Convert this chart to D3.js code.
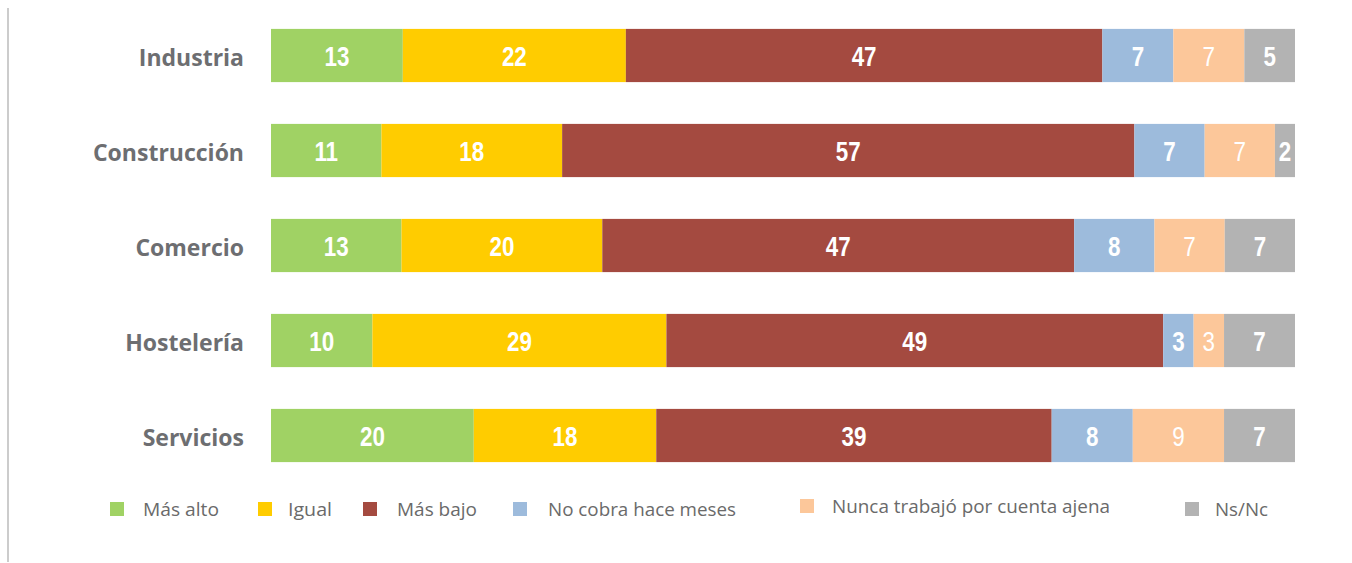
<!DOCTYPE html>
<html>
<head>
<meta charset="utf-8">
<script src="https://cdn.jsdelivr.net/npm/d3@7"></script>
<style>
  html, body { margin: 0; padding: 0; background: #fff; }
  svg { display: block; }
</style>
</head>
<body>
<svg id="chart" width="1352" height="563"></svg>
<script>
const categories = ["Industria", "Construcción", "Comercio", "Hostelería", "Servicios"];
const seriesNames = ["Más alto", "Igual", "Más bajo", "No cobra hace meses", "Nunca trabajó por cuenta ajena", "Ns/Nc"];
const masAlto   = [13, 11, 13, 10, 20];
const igual     = [22, 18, 20, 29, 18];
const masBajo   = [47, 57, 47, 49, 39];
const noCobra   = [7, 7, 8, 3, 8];
const nunca     = [7, 7, 7, 3, 9];
const nsnc      = [5, 2, 7, 7, 7];
const seriesValues = [masAlto, igual, masBajo, noCobra, nunca, nsnc];
const colors = ["#a0d264", "#ffcc00", "#a44a40", "#9dbbdc", "#fcc79a", "#b3b3b3"];

const svg = d3.select("#chart");

// left border line
svg.append("line").attr("x1", 8).attr("x2", 8).attr("y1", 8).attr("y2", 562)
  .attr("stroke", "#cccccc").attr("stroke-width", 2);

const x = d3.scaleLinear().domain([0, 1]).range([271, 1295]);
const y = d3.scaleBand().domain(categories).range([8, 483]).paddingInner(0.44).paddingOuter(0.22);

const rows = categories.map((c, i) => {
  const vals = seriesValues.map(s => s[i]);
  const total = d3.sum(vals);
  let acc = 0;
  return vals.map((v, k) => {
    const seg = { cat: c, k, v, x0: acc / total, x1: (acc + v) / total };
    acc += v;
    return seg;
  });
});

const g = svg.append("g");
rows.forEach(row => {
  const rg = g.append("g");
  rg.selectAll("rect").data(row).join("rect")
    .attr("x", d => x(d.x0))
    .attr("width", d => x(d.x1) - x(d.x0))
    .attr("y", d => y(d.cat))
    .attr("height", y.bandwidth())
    .attr("fill", d => colors[d.k]);
  rg.selectAll("text").data(row).join("text")
    .attr("transform", d => `translate(${(x(d.x0) + x(d.x1)) / 2},${y(d.cat) + y.bandwidth() / 2 + 10}) scale(0.8,1)`)
    .attr("text-anchor", "middle")
    .attr("font-family", "'Liberation Sans', Arial, sans-serif")
    .attr("font-weight", d => d.k === 4 ? "normal" : "bold")
    .attr("font-size", 28)
    .attr("fill", "#ffffff")
    .text(d => d.v);
});

// category labels
const yAxis = d3.axisLeft(y).tickSize(0).tickPadding(0);
const ax = svg.append("g").attr("transform", "translate(244,2)").call(yAxis);
ax.select(".domain").remove();
ax.selectAll("text")
  .attr("font-family", "'Open Sans', sans-serif")
  .attr("font-weight", "bold")
  .attr("font-size", 23)
  .attr("fill", "#6d6e71")
  .attr("dy", "0.35em");

// legend
const legendX = [110, 258, 363, 513, 800, 1185];
const legendTextX = [143, 288, 397, 548, 832, 1215];
const legendY = [509, 509, 509, 509, 506, 509];
const legendLen = [76, 44, 80, 188, 278, 53];
const lg = svg.append("g");
seriesNames.forEach((name, k) => {
  lg.append("rect")
    .attr("x", legendX[k]).attr("y", legendY[k] - 7).attr("width", 14).attr("height", 14)
    .attr("fill", colors[k]);
  lg.append("text")
    .attr("x", legendTextX[k]).attr("y", legendY[k] + 7)
    .attr("font-family", "'Open Sans', sans-serif")
    .attr("font-size", 19)
    .attr("fill", "#6a6a6a")
    .attr("textLength", legendLen[k])
    .attr("lengthAdjust", "spacingAndGlyphs")
    .text(name);
});
</script>
</body>
</html>
